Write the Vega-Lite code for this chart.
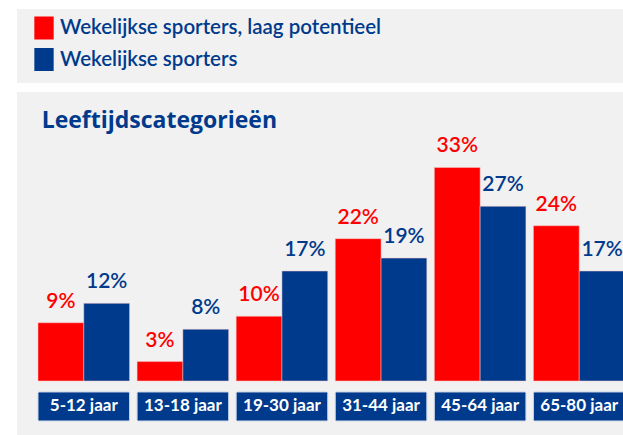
{
  "$schema": "https://vega.github.io/schema/vega-lite/v6.json",
  "background": "#ffffff",
  "padding": {"left": 17, "top": 9, "right": 0, "bottom": 0},
  "spacing": 9,
  "config": {
    "view": {"fill": "#f1f1f1", "stroke": null},
    "font": "Lato",
    "text": {"font": "Lato"}
  },
  "datasets": {
    "sporters": [
      {"leeftijd": "5-12 jaar", "groep": "Wekelijkse sporters, laag potentieel", "aandeel": 0.09},
      {"leeftijd": "5-12 jaar", "groep": "Wekelijkse sporters", "aandeel": 0.12},
      {"leeftijd": "13-18 jaar", "groep": "Wekelijkse sporters, laag potentieel", "aandeel": 0.03},
      {"leeftijd": "13-18 jaar", "groep": "Wekelijkse sporters", "aandeel": 0.08},
      {"leeftijd": "19-30 jaar", "groep": "Wekelijkse sporters, laag potentieel", "aandeel": 0.10},
      {"leeftijd": "19-30 jaar", "groep": "Wekelijkse sporters", "aandeel": 0.17},
      {"leeftijd": "31-44 jaar", "groep": "Wekelijkse sporters, laag potentieel", "aandeel": 0.22},
      {"leeftijd": "31-44 jaar", "groep": "Wekelijkse sporters", "aandeel": 0.19},
      {"leeftijd": "45-64 jaar", "groep": "Wekelijkse sporters, laag potentieel", "aandeel": 0.33},
      {"leeftijd": "45-64 jaar", "groep": "Wekelijkse sporters", "aandeel": 0.27},
      {"leeftijd": "65-80 jaar", "groep": "Wekelijkse sporters, laag potentieel", "aandeel": 0.24},
      {"leeftijd": "65-80 jaar", "groep": "Wekelijkse sporters", "aandeel": 0.17}
    ],
    "groepen": [
      {"groep": "Wekelijkse sporters, laag potentieel"},
      {"groep": "Wekelijkse sporters"}
    ],
    "categorieen": [
      {"leeftijd": "5-12 jaar"},
      {"leeftijd": "13-18 jaar"},
      {"leeftijd": "19-30 jaar"},
      {"leeftijd": "31-44 jaar"},
      {"leeftijd": "45-64 jaar"},
      {"leeftijd": "65-80 jaar"}
    ]
  },
  "vconcat": [
    {
      "width": 629,
      "height": 74,
      "view": {"fill": "#f1f1f1", "stroke": null},
      "data": {"name": "groepen"},
      "mark": {"type": "square", "opacity": 0},
      "encoding": {
        "y": {
          "field": "groep",
          "type": "nominal",
          "scale": {"domain": ["Wekelijkse sporters, laag potentieel", "Wekelijkse sporters"]},
          "axis": null
        },
        "color": {
          "field": "groep",
          "type": "nominal",
          "scale": {
            "domain": ["Wekelijkse sporters, laag potentieel", "Wekelijkse sporters"],
            "range": ["#ff0000", "#003a8c"]
          },
          "legend": {
            "orient": "none",
            "legendX": 15.5,
            "legendY": 7.5,
            "direction": "vertical",
            "padding": 0,
            "title": null,
            "symbolType": "M-0.84,-1H0.84V1H-0.84Z",
            "symbolSize": 529,
            "symbolOpacity": 1,
            "symbolStrokeWidth": 0,
            "labelFont": "Lato",
            "labelFontSize": 20.5,
            "labelFontWeight": 600,
            "labelColor": "#003a8c",
            "labelOffset": 4.5,
            "labelLimit": 600,
            "rowPadding": 8.5
          }
        }
      }
    },
    {
      "width": 629,
      "height": 345,
      "title": {
        "text": "Leeftijdscategorieën",
        "anchor": "start",
        "frame": "group",
        "orient": "top",
        "offset": -59,
        "baseline": "alphabetic",
        "dx": 24.7,
        "font": "Open Sans",
        "fontSize": 23,
        "fontWeight": 700,
        "color": "#003a8c"
      },
      "resolve": {"legend": {"color": "independent"}},
      "encoding": {
        "x": {
          "field": "leeftijd",
          "type": "nominal",
          "scale": {
            "domain": ["5-12 jaar", "13-18 jaar", "19-30 jaar", "31-44 jaar", "45-64 jaar", "65-80 jaar"],
            "paddingInner": 0.076,
            "paddingOuter": 0.212
          },
          "axis": null
        }
      },
      "layer": [
        {
          "data": {"name": "sporters"},
          "mark": {"type": "bar", "stroke": "#f6c9c9", "strokeWidth": 0.5},
          "encoding": {
            "xOffset": {
              "field": "groep",
              "type": "nominal",
              "scale": {
                "domain": ["Wekelijkse sporters, laag potentieel", "Wekelijkse sporters"],
                "paddingInner": 0,
                "paddingOuter": 0
              }
            },
            "y": {
              "field": "aandeel",
              "type": "quantitative",
              "scale": {"domain": [-0.0866, 0.4467], "nice": false, "zero": false},
              "axis": null
            },
            "y2": {"datum": 0},
            "color": {
              "field": "groep",
              "type": "nominal",
              "scale": {
                "domain": ["Wekelijkse sporters, laag potentieel", "Wekelijkse sporters"],
                "range": ["#ff0000", "#003a8c"]
              },
              "legend": null
            }
          }
        },
        {
          "data": {"name": "sporters"},
          "mark": {
            "type": "text",
            "baseline": "alphabetic",
            "dy": -15,
            "fontSize": 21,
            "fontWeight": 600
          },
          "encoding": {
            "xOffset": {
              "field": "groep",
              "type": "nominal",
              "scale": {
                "domain": ["Wekelijkse sporters, laag potentieel", "Wekelijkse sporters"],
                "paddingInner": 0,
                "paddingOuter": 0
              }
            },
            "y": {"field": "aandeel", "type": "quantitative"},
            "text": {"field": "aandeel", "type": "quantitative", "format": ".0%"},
            "color": {"field": "groep", "type": "nominal", "legend": null}
          }
        },
        {
          "data": {"name": "categorieen"},
          "mark": {
            "type": "bar",
            "color": "#003a8c",
            "stroke": "#c9d3e6",
            "strokeWidth": 1,
            "cornerRadius": 1.5
          },
          "encoding": {
            "y": {"datum": -0.017, "type": "quantitative"},
            "y2": {"datum": -0.0618}
          }
        },
        {
          "data": {"name": "categorieen"},
          "mark": {
            "type": "text",
            "baseline": "middle",
            "color": "#ffffff",
            "fontSize": 17,
            "fontWeight": 700
          },
          "encoding": {
            "y": {"datum": -0.0394, "type": "quantitative"},
            "text": {"field": "leeftijd", "type": "nominal"}
          }
        }
      ]
    }
  ]
}
